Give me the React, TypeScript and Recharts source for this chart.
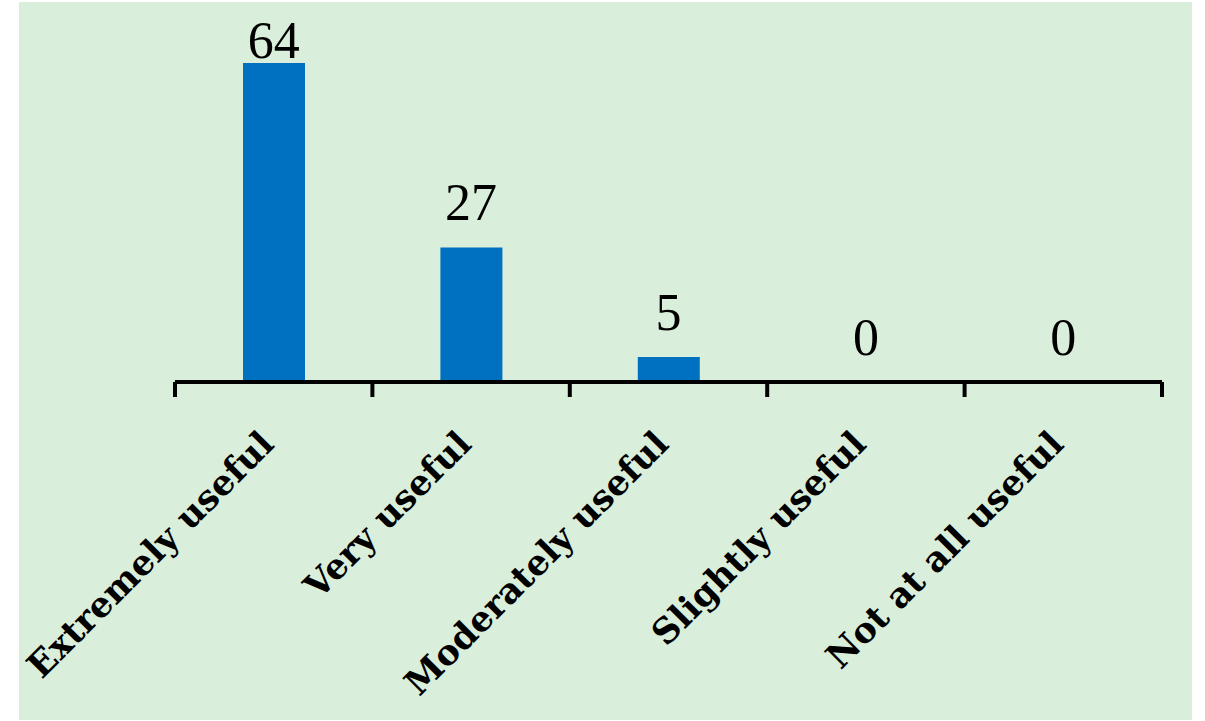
import { ComposedChart, Bar, Line, XAxis, YAxis, LabelList } from 'recharts';

// Survey answers: how useful was it
const categories = ['Extremely useful', 'Very useful', 'Moderately useful', 'Slightly useful', 'Not at all useful'];
const responses = [64, 27, 5, 0, 0];
const valueDomain = [0, 70];

const data = categories.map((name, i) => ({ name, value: responses[i] }));

const SERIF = '"Palatino Linotype", "Book Antiqua", Palatino, "DejaVu Serif", serif';

// label plus the tick marks, which sit on the category boundaries, not the centres
const CategoryTick = (props: any) => {
  const { x, y, payload, width, visibleTicksCount, index } = props;
  const half = width / visibleTicksCount / 2;
  const ax = x + 2;
  const ay = y + 64;
  const isLast = index === visibleTicksCount - 1;
  return (
    <g>
      <line x1={x - half} x2={x - half} y1={y} y2={y + 15} stroke="#000" strokeWidth={4} />
      {isLast && <line x1={x + half} x2={x + half} y1={y} y2={y + 15} stroke="#000" strokeWidth={4} />}
      <text
        x={ax}
        y={ay}
        transform={`rotate(-45, ${ax}, ${ay})`}
        textAnchor="end"
        fontFamily={SERIF}
        fontWeight="bold"
        fontSize={35}
        fill="#000"
      >
        {payload.value}
      </text>
    </g>
  );
};

const ValueLabel = (props: any) => {
  const { x, y, value } = props;
  // the tallest bar's label is held down inside the frame
  const baseline = Math.max(y - 27, 56);
  return (
    <text x={x} y={baseline} textAnchor="middle" fontFamily={'"Liberation Serif", serif'} fontSize={52} fill="#000">
      {value}
    </text>
  );
};

const App = () => {
  return (
    <div style={{ position: 'absolute', left: 19, top: 2, width: 1173, height: 718, background: '#d9eedb' }}>
      <ComposedChart width={1173} height={718} data={data} margin={{ top: 31, right: 30, bottom: 8, left: 156 }}>
        <XAxis
          dataKey="name"
          height={330}
          axisLine={{ stroke: '#000', strokeWidth: 4 }}
          tickLine={false}
          tickSize={0}
          tickMargin={0}
          interval={0}
          tick={(p: any) => <CategoryTick {...p} />}
        />
        <YAxis hide domain={valueDomain} />
        <Bar dataKey="value" fill="#0070c0" barSize={62} isAnimationActive={false} />
        <Line dataKey="value" stroke="none" dot={false} activeDot={false} isAnimationActive={false}>
          <LabelList dataKey="value" content={(p: any) => <ValueLabel {...p} />} />
        </Line>
      </ComposedChart>
    </div>
  );
};

export default App;
